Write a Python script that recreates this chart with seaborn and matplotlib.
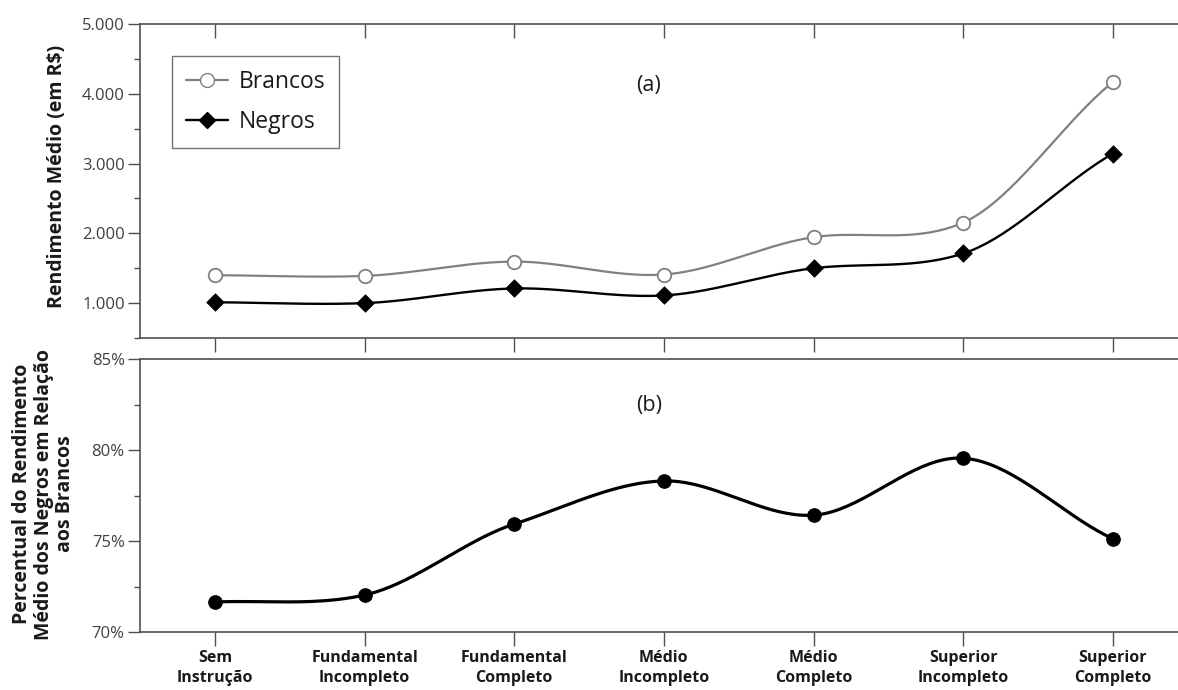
import numpy as np
import pandas as pd
import matplotlib
matplotlib.use("Agg")
import matplotlib.pyplot as plt
from matplotlib.lines import Line2D
from matplotlib.ticker import FixedLocator, MultipleLocator, FuncFormatter
import seaborn as sns

categories = ["Sem\nInstrução", "Fundamental\nIncompleto", "Fundamental\nCompleto",
              "Médio\nIncompleto", "Médio\nCompleto", "Superior\nIncompleto", "Superior\nCompleto"]
brancos = [1400, 1390, 1595, 1410, 1945, 2155, 4170]
negros = [1012, 1000, 1210, 1110, 1500, 1712, 3143]
percentual = [71.65, 72.03, 75.93, 78.30, 76.42, 79.55, 75.12]

yticks_top = [1000, 2000, 3000, 4000, 5000]
yticks_bot = [70, 75, 80, 85]

sns.set_theme(style="white")
plt.rcParams['font.family'] = ['Open Sans', 'DejaVu Sans']

W, H = 1178, 690
fig = plt.figure(figsize=(W / 100, H / 100), dpi=100)

def smooth(yvals, n=40, tension=0.85):
    # Cardinal-spline style smoothing between consecutive points
    y = np.asarray(yvals, float)
    x = np.arange(len(y), dtype=float)
    m = np.zeros_like(y)
    m[1:-1] = tension * (y[2:] - y[:-2]) / 2.0
    m[0] = tension * (y[1] - y[0])
    m[-1] = tension * (y[-1] - y[-2])
    xs, ys = [], []
    for i in range(len(y) - 1):
        t = np.linspace(0, 1, n, endpoint=(i == len(y) - 2))
        h00 = 2 * t**3 - 3 * t**2 + 1
        h10 = t**3 - 2 * t**2 + t
        h01 = -2 * t**3 + 3 * t**2
        h11 = t**3 - t**2
        ys.append(h00 * y[i] + h10 * m[i] + h01 * y[i + 1] + h11 * m[i + 1])
        xs.append(x[i] + t)
    return np.concatenate(xs), np.concatenate(ys)

spine_col = "#505050"
text_col = "#404040"

left = 140 / W
right = 1.0
xlim = (-0.5, 6 + (W - 1113) / 149.67)
x = np.arange(len(categories))

# ---- Top axes ----
ax1 = fig.add_axes([left, 1 - 338 / H, right - left, (338 - 24) / H])
for vals, col, lw in [(brancos, "#808080", 1.6), (negros, "black", 1.7)]:
    xs, ys = smooth(vals)
    sns.lineplot(x=xs, y=ys, ax=ax1, color=col, lw=lw, sort=False, estimator=None)
sns.scatterplot(x=x, y=brancos, ax=ax1, marker="o", s=95, facecolor="white",
                edgecolor="#808080", linewidth=1.3, zorder=5)
sns.scatterplot(x=x, y=negros, ax=ax1, marker="D", s=80, color="black",
                edgecolor="black", linewidth=0.5, zorder=5)
ax1.set_xlim(*xlim)
ax1.set_ylim(500, 5000)
ax1.yaxis.set_major_locator(FixedLocator(yticks_top))
ax1.yaxis.set_minor_locator(MultipleLocator(500))
ax1.yaxis.set_major_formatter(FuncFormatter(lambda v, p: f"{int(v):,}".replace(",", ".")))
ax1.set_xticks(x)
ax1.set_xticklabels([])
ax1.tick_params(axis="x", which="major", bottom=True, top=False, direction="out",
                length=10, width=1, color=spine_col)
sec = ax1.secondary_xaxis("top")
sec.set_xticks(x)
sec.set_xticklabels([])
sec.tick_params(axis="x", direction="in", length=10, width=1, color=spine_col)
sec.spines["top"].set_visible(False)
ax1.tick_params(axis="y", which="major", left=True, direction="out", length=9, width=1,
                color=spine_col, labelsize=12, labelcolor=text_col, pad=2)
ax1.tick_params(axis="y", which="minor", left=True, direction="out", length=4, width=1,
                color=spine_col)
for s in ["left", "top", "bottom"]:
    ax1.spines[s].set_color(spine_col)
    ax1.spines[s].set_linewidth(1.2)
ax1.spines["right"].set_visible(False)
ax1.set_xlabel("")
ax1.set_ylabel("")
ax1.text(3 - 0.1, 4114, "(a)", ha="center", va="center", fontsize=15.5, color="#1a1a1a")

handles = [Line2D([0], [0], color="#808080", lw=1.6, marker="o", markersize=10,
                  markerfacecolor="white", markeredgecolor="#808080"),
           Line2D([0], [0], color="black", lw=1.7, marker="D", markersize=8,
                  markerfacecolor="black")]
leg = ax1.legend(handles, ["Brancos", "Negros"], loc="upper left",
                 bbox_to_anchor=((172 - 140) / (W - 140), (338 - 56) / (338 - 24)),
                 borderaxespad=0, fontsize=16.5, frameon=True, fancybox=False,
                 handlelength=1.85, borderpad=0.6, labelspacing=0.7, handletextpad=0.45)
leg.get_frame().set_edgecolor(spine_col)
leg.get_frame().set_linewidth(1.0)
for t in leg.get_texts():
    t.set_color("#1a1a1a")

fig.text(57 / W, 1 - 176 / H, "Rendimento Médio (em R$)", rotation=90, ha="center",
         va="center", fontsize=14, fontweight="bold", color="#1a1a1a")

# ---- Bottom axes ----
ax2 = fig.add_axes([left, 1 - 632 / H, right - left, (632 - 359) / H])
xs, ys = smooth(percentual)
sns.lineplot(x=xs, y=ys, ax=ax2, color="black", lw=2.3, sort=False, estimator=None)
sns.scatterplot(x=x, y=percentual, ax=ax2, marker="o", s=95, color="black",
                edgecolor="black", zorder=5)
ax2.set_xlim(*xlim)
ax2.set_ylim(70, 85)
ax2.yaxis.set_major_locator(FixedLocator(yticks_bot))
ax2.yaxis.set_minor_locator(MultipleLocator(2.5))
ax2.yaxis.set_major_formatter(FuncFormatter(lambda v, p: f"{int(round(v))}%"))
ax2.set_xticks(x)
ax2.set_xticklabels(categories, fontsize=11.5, fontweight="bold", color="#1a1a1a",
                    linespacing=1.3)
ax2.tick_params(axis="x", which="major", bottom=True, direction="out", length=10,
                width=1, color=spine_col, pad=3)
ax2.tick_params(axis="y", which="major", left=True, direction="out", length=9, width=1,
                color=spine_col, labelsize=12, labelcolor=text_col, pad=2)
ax2.tick_params(axis="y", which="minor", left=True, direction="out", length=4, width=1,
                color=spine_col)
for s in ["left", "top", "bottom"]:
    ax2.spines[s].set_color(spine_col)
    ax2.spines[s].set_linewidth(1.2)
ax2.spines["right"].set_visible(False)
ax2.set_xlabel("")
ax2.set_ylabel("")
ax2.text(3 - 0.1, 82.47, "(b)", ha="center", va="center", fontsize=15.5, color="#1a1a1a")

fig.text(44 / W, 1 - 494 / H,
         "Percentual do Rendimento\nMédio dos Negros em Relação\naos Brancos",
         rotation=90, ha="center", va="center", fontsize=14, fontweight="bold",
         color="#1a1a1a", linespacing=1.1, multialignment="center")

fig.savefig("out.png", dpi=100)
